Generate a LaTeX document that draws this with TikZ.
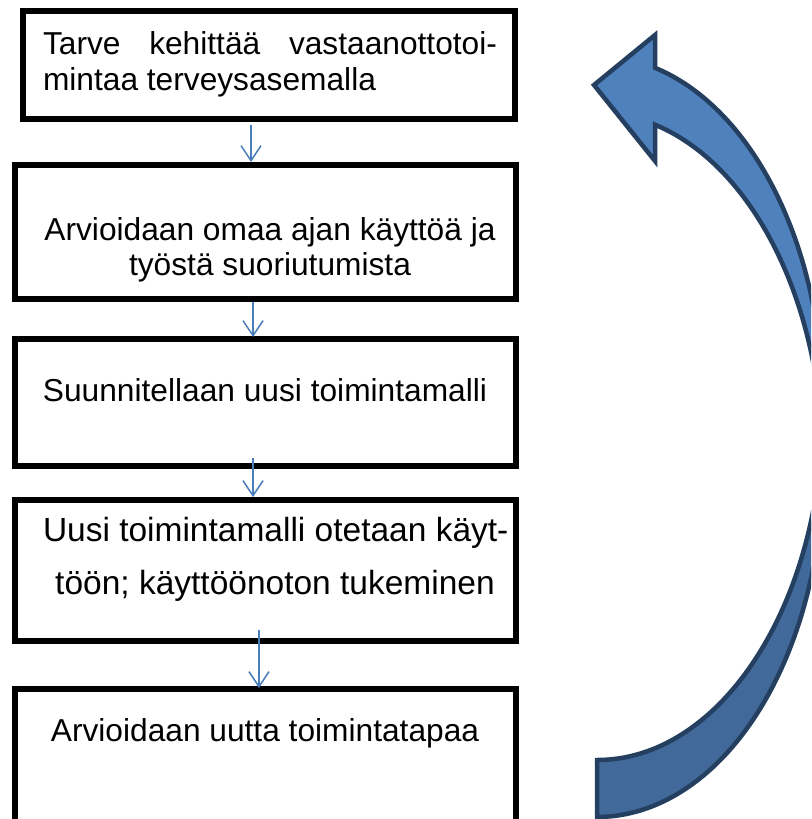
\documentclass[tikz,border=0pt]{standalone}
\usepackage{fontspec}
\setmainfont{Liberation Sans}
\usetikzlibrary{arrows.meta}
\definecolor{flowblue}{HTML}{4A7EBB}
\definecolor{arrfront}{HTML}{4F81BD}
\definecolor{arrback}{HTML}{41699A}
\definecolor{arredge}{HTML}{243F60}
\begin{document}
\begin{tikzpicture}[x=1pt,y=-1pt,
  stepbox/.style={draw=black, line width=6pt, rectangle, inner sep=0pt, outer sep=0pt},
  txt/.style={inner sep=0pt, outer sep=0pt, font=\fontsize{31.7}{36}\selectfont},
  widetxt/.style={inner sep=0pt, outer sep=0pt, font=\fontsize{33.5}{38}\selectfont},
  flow/.style={draw=flowblue, line width=1.5pt, -{Straight Barb[length=15pt,width=20pt]}},
  bigarrow/.style={draw=arredge, line width=4.5pt, line join=miter}]
\clip (0,0) rectangle (811,819);
\fill[white] (0,0) rectangle (811,819);
% boxes
\node[stepbox, minimum width=492pt, minimum height=108pt] (b1) at (269,65) {};
\node[stepbox, minimum width=501pt, minimum height=134pt] (b2) at (265.5,232) {};
\node[stepbox, minimum width=501pt, minimum height=127pt] (b3) at (265.5,402.5) {};
\node[stepbox, minimum width=501pt, minimum height=141pt] (b4) at (265.5,570.5) {};
\node[stepbox, minimum width=501pt, minimum height=161pt] (b5) at (265.5,769.5) {};
% texts
\node[txt, anchor=base west] (t1a) at (43,54) {\makebox[454pt][s]{Tarve kehittää vastaanottotoi-}};
\node[txt, anchor=base west] (t1b) at (43,90) {mintaa terveysasemalla};
\node[txt, anchor=base] (t2a) at (270,240) {Arvioidaan omaa ajan käyttöä ja};
\node[txt, anchor=base] (t2b) at (270,275) {työstä suoriutumista};
\node[txt, anchor=base] (t3) at (265,401) {Suunnitellaan uusi toimintamalli};
\node[widetxt, anchor=base west] (t4a) at (43,541) {Uusi toimintamalli otetaan käyt-};
\node[widetxt, anchor=base] (t4b) at (275,594) {töön; käyttöönoton tukeminen};
\node[txt, anchor=base] (t5) at (265,741) {Arvioidaan uutta toimintatapaa};
% connectors
\coordinate (xa) at (251,0);
\coordinate (xb) at (253,0);
\coordinate (xc) at (253,0);
\coordinate (xd) at (259,0);
\draw[flow, shorten <=6pt, shorten >=3pt] (b1.south -| xa) -- (b2.north -| xa);
\draw[flow, shorten <=3pt, shorten >=2pt] (b2.south -| xb) -- (b3.north -| xb);
\draw[flow, shorten <=-8pt, shorten >=3pt] (b3.south -| xc) -- (b4.north -| xc);
\draw[flow, shorten <=-11pt, shorten >=1pt] (b4.south -| xd) -- (b5.north -| xd);
% big curved arrow (back face, then front face)
\filldraw[bigarrow, fill=arrback] (822.3,436.5)
  arc[start angle=-4.64, end angle=90, x radius=226, y radius=352]
  -- (597,760)
  arc[start angle=90, end angle=4.64, x radius=226, y radius=352] -- cycle;
\filldraw[bigarrow, fill=arrfront] (594,85) -- (655,35) -- (655,67.8)
  arc[start angle=-75.13, end angle=4.64, x radius=226, y radius=352]
  arc[start angle=-4.64, end angle=-75.13, x radius=226, y radius=352]
  -- (655,161) -- cycle;
\end{tikzpicture}
\end{document}
